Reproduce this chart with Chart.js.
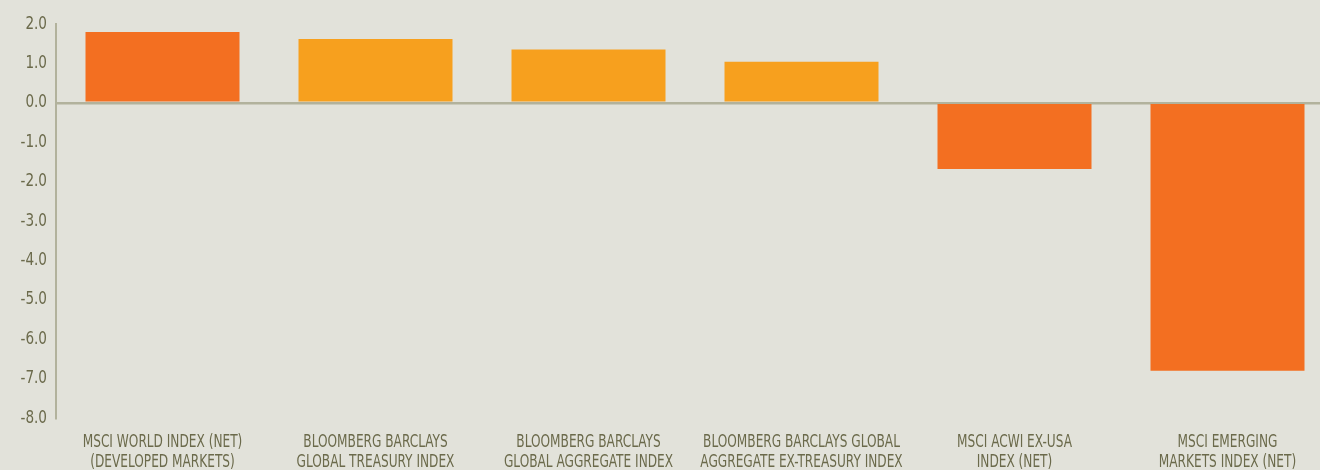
<!DOCTYPE html>
<html>
<head>
<meta charset="UTF-8">
<title>Index returns</title>
<script src="https://cdn.jsdelivr.net/npm/chart.js"></script>
<style>
    html, body {
        margin: 0;
        padding: 0;
        background: #e2e2da;
        overflow: hidden;
    }
    #wrap {
        width: 1336px;
        height: 480px;
    }
</style>
</head>
<body>
<div id="wrap"><canvas id="chart" width="1336" height="480"></canvas></div>
<script>
    const categories = [
        ['MSCI WORLD INDEX (NET)', '(DEVELOPED MARKETS)'],
        ['BLOOMBERG BARCLAYS', 'GLOBAL TREASURY INDEX'],
        ['BLOOMBERG BARCLAYS', 'GLOBAL AGGREGATE INDEX'],
        ['BLOOMBERG BARCLAYS GLOBAL', 'AGGREGATE EX-TREASURY INDEX'],
        ['MSCI ACWI EX-USA', 'INDEX (NET)'],
        ['MSCI EMERGING', 'MARKETS INDEX (NET)']
    ];
    const returns = [1.80, 1.62, 1.35, 1.04, -1.68, -6.80];
    const barColors = ['#f36f21', '#f7a01e', '#f7a01e', '#f7a01e', '#f36f21', '#f36f21'];
    const yMin = -8;
    const yMax = 2;

    const textColor = '#6b6a4b';
    const lineColor = '#b2b29c';
    const fontFamily = '"DejaVu Sans Condensed", "Liberation Sans Narrow", sans-serif';

    // the source uses a condensed face, so squeeze tick labels horizontally
    const narrowLabels = {
        id: 'narrowLabels',
        afterLayout(chart) {
            [['x', 0.75], ['y', 0.84]].forEach(([id, k]) => {
                const scale = chart.scales[id];
                if (!scale || scale._narrow) return;
                const orig = scale.drawLabels;
                scale.drawLabels = function (area) {
                    const c = this.ctx;
                    const fill = c.fillText;
                    c.fillText = function (t, x, y, m) {
                        c.save();
                        c.translate(x, y);
                        c.scale(k, 1);
                        fill.call(c, t, 0, 0, m);
                        c.restore();
                    };
                    orig.call(this, area);
                    c.fillText = fill;
                };
                scale._narrow = true;
            });
        }
    };

    const ctx = document.getElementById('chart').getContext('2d');
    new Chart(ctx, {
        type: 'bar',
        data: {
            labels: categories,
            datasets: [{
                data: returns,
                backgroundColor: barColors,
                borderWidth: 0,
                categoryPercentage: 1,
                barPercentage: 0.723
            }]
        },
        plugins: [narrowLabels],
        options: {
            responsive: false,
            animation: false,
            layout: { padding: { top: 24, right: 2, left: 0, bottom: 0 } },
            plugins: {
                legend: { display: false },
                tooltip: { enabled: false }
            },
            scales: {
                x: {
                    grid: { display: false, drawTicks: false },
                    border: { display: false },
                    ticks: {
                        color: textColor,
                        padding: 14,
                        maxRotation: 0,
                        autoSkip: false,
                        font: { family: fontFamily, size: 18, lineHeight: 1.12 }
                    },
                    afterFit: s => { s.height = 62; }
                },
                y: {
                    min: yMin,
                    max: yMax,
                    grid: {
                        drawTicks: false,
                        color: c => c.tick && c.tick.value === 0 ? lineColor : 'rgba(0,0,0,0)',
                        lineWidth: 2.5
                    },
                    border: { display: true, color: lineColor, width: 2 },
                    ticks: {
                        stepSize: 1,
                        color: textColor,
                        padding: 9,
                        font: { family: fontFamily, size: 18 },
                        callback: v => v.toFixed(1)
                    },
                    afterFit: s => { s.width = 56; }
                }
            }
        }
    });
</script>
</body>
</html>
